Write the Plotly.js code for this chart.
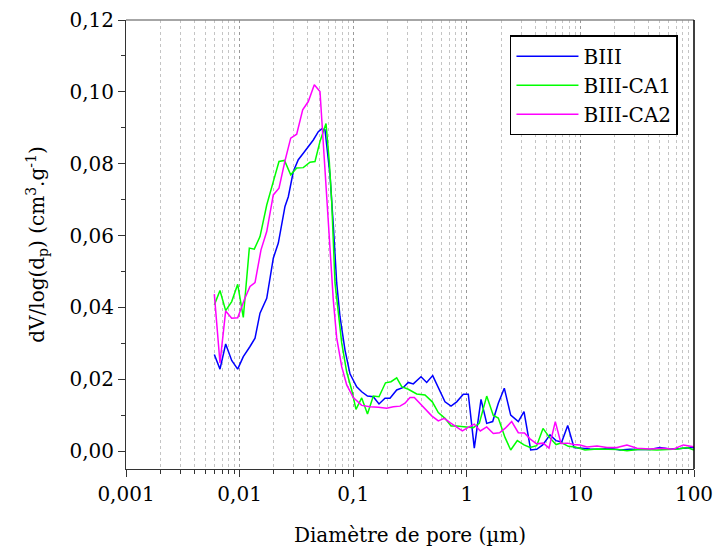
<!DOCTYPE html>
<html>
<head>
<meta charset="utf-8">
<script src="https://cdn.plot.ly/plotly-3.0.1.min.js"></script>
<style>html,body{margin:0;padding:0;background:#fff;}#chart{width:715px;height:551px;}</style>
</head>
<body>
<div id="chart"></div>
<script>
// ---- Data (pore diameter in µm, dV/log(dp) in cm3/g) ----
const biiiD = [0.00599,0.00672,0.00754,0.00852,0.00962,0.01078,0.01235,0.01367,0.01512,0.01733,0.0198,0.02192,0.02509,0.02684,0.0297,0.03286,0.03636,0.04024,0.04455,0.04929,0.05281,0.05646,0.06248,0.0668,0.07158,0.07652,0.08469,0.09371,0.1073,0.1188,0.1336,0.1503,0.1687,0.1905,0.2108,0.2415,0.2761,0.3055,0.3381,0.3952,0.4436,0.501,0.5612,0.6428,0.7262,0.8149,0.9316,1.031,1.164,1.334,1.497,1.69,1.894,2.138,2.434,2.84,3.188,3.651,4.124,4.658,5.4,6.099,6.845,7.732,8.785,9.92,12.15,14.88,18.22,22.32,27.33,33.46,41.0,50.2,61.5,75.3,92.2,100];
const biiiV = [0.0269,0.0228,0.0298,0.0252,0.0228,0.0263,0.0291,0.0314,0.0384,0.0425,0.0537,0.0579,0.0681,0.0708,0.0778,0.0811,0.0829,0.0848,0.0866,0.0889,0.0897,0.0894,0.0769,0.0630,0.0468,0.0374,0.0281,0.0215,0.0179,0.0165,0.0153,0.0151,0.0131,0.0147,0.0147,0.0170,0.0177,0.0191,0.0187,0.0207,0.0191,0.0210,0.0175,0.0137,0.0125,0.0137,0.0158,0.0158,0.0008,0.0144,0.0077,0.0082,0.0133,0.0175,0.0100,0.0082,0.0110,0.0003,0.0005,0.0017,0.0045,0.0029,0.0025,0.0071,0.0010,0.0008,0.0006,0.0005,0.0008,0.0003,0.0005,0.0004,0.0004,0.0010,0.0006,0.0007,0.0010,0.0010];

const ca1D = [0.00599,0.00672,0.00754,0.00852,0.00962,0.01078,0.01218,0.01347,0.01512,0.01733,0.0198,0.02222,0.02484,0.02818,0.03181,0.03636,0.04165,0.04611,0.05101,0.05534,0.05763,0.0616,0.06467,0.06915,0.07393,0.07922,0.08767,0.09701,0.1058,0.1188,0.1336,0.1503,0.1687,0.1924,0.2151,0.2415,0.2673,0.3055,0.3622,0.4285,0.4969,0.5612,0.6428,0.7262,0.8149,0.9643,1.141,1.288,1.497,1.711,1.894,2.169,2.434,2.783,3.188,3.6,4.124,4.687,5.346,6.099,6.845,7.826,8.964,10.98,14.0,17.5,21.4,25.7,33.5,47.2,57.8,72.3,86.8,100];
const ca1V = [0.0407,0.0447,0.0391,0.0416,0.0464,0.0372,0.0565,0.0562,0.0597,0.0685,0.0750,0.0806,0.0809,0.0769,0.0788,0.0789,0.0804,0.0806,0.0862,0.0899,0.0912,0.0806,0.0694,0.0468,0.0384,0.0301,0.0220,0.0170,0.0116,0.0148,0.0103,0.0153,0.0151,0.0190,0.0193,0.0204,0.0179,0.0172,0.0159,0.0156,0.0137,0.0107,0.0091,0.0070,0.0070,0.0068,0.0065,0.0077,0.0153,0.0099,0.0092,0.0038,0.0003,0.0029,0.0017,0.0010,0.0015,0.0063,0.0038,0.0018,0.0023,0.0013,0.0011,0.0003,0.0006,0.0005,0.0004,0.0001,0.0005,0.0003,0.0004,0.0006,0.0010,0.0003];

const ca2D = [0.00599,0.00672,0.00754,0.00852,0.00962,0.011,0.01235,0.01367,0.01543,0.01733,0.0198,0.02222,0.02509,0.02818,0.03181,0.03592,0.04024,0.04546,0.05101,0.05456,0.05843,0.06248,0.0668,0.07158,0.07922,0.08767,0.1002,0.1188,0.1405,0.1663,0.1972,0.2254,0.2582,0.2858,0.3162,0.3451,0.3873,0.4285,0.4909,0.5612,0.6337,0.7116,0.7873,0.9129,1.031,1.164,1.315,1.497,1.711,1.941,2.169,2.484,2.84,3.22,3.6,4.124,4.715,5.292,6.012,6.748,7.7,8.785,9.92,11.43,14.0,17.15,21.0,25.7,31.5,41.0,53.4,65.7,80.5,99.4];
const ca2V = [0.0437,0.0245,0.0390,0.0370,0.0371,0.0421,0.0458,0.0469,0.0560,0.0611,0.0713,0.0732,0.0808,0.0871,0.0882,0.0950,0.0973,0.1020,0.1001,0.0862,0.0727,0.0560,0.0421,0.0315,0.0235,0.0184,0.0149,0.0127,0.0123,0.0122,0.0119,0.0123,0.0125,0.0133,0.0149,0.0149,0.0133,0.0116,0.0098,0.0084,0.0091,0.0079,0.0070,0.0056,0.0066,0.0075,0.0056,0.0067,0.0049,0.0051,0.0063,0.0082,0.0051,0.0050,0.0034,0.0020,0.0022,0.0008,0.0082,0.0021,0.0022,0.0018,0.0017,0.0011,0.0014,0.0010,0.0010,0.0017,0.0008,0.0006,0.0008,0.0005,0.0017,0.0012];

const seriesNames = ["BIII", "BIII-CA1", "BIII-CA2"];
const xTickVals = [0.001, 0.01, 0.1, 1, 10, 100];
const xTickText = ["0,001", "0,01", "0,1", "1", "10", "100"];

// minor tick positions 2..9 within each decade
const xMinorVals = [];
for (let i = 0; i < xTickVals.length - 1; i++) {
  for (let m = 2; m <= 9; m++) xMinorVals.push(+(xTickVals[i] * m).toPrecision(3));
}

const FONT = "DejaVu Serif, serif";
const colors = ["#0000ff", "#00ff00", "#ff00ff"];
const xs = [biiiD, ca1D, ca2D];
const ys = [biiiV, ca1V, ca2V];

const traces = seriesNames.map((n, i) => ({
  x: xs[i], y: ys[i], name: n, type: "scatter", mode: "lines",
  line: {color: colors[i], width: 1.5},
  legendgroup: "g" + i
}));

const layout = {
  width: 715, height: 551,
  margin: {l: 126, r: 21, t: 20, b: 82},
  paper_bgcolor: "#fff", plot_bgcolor: "#fff",
  separators: ", ",
  font: {family: FONT, size: 20, color: "#000"},
  showlegend: true,
  legend: {
    x: 0.676, y: 0.966, xanchor: "left", yanchor: "top",
    bgcolor: "#fff", bordercolor: "#000", borderwidth: 1.5,
    font: {family: FONT, size: 20, color: "#000"},
    tracegroupgap: 0, itemwidth: 62
  },
  xaxis: {
    type: "log", range: [-3, 2],
    tickmode: "array", tickvals: xTickVals, ticktext: xTickText,
    ticks: "outside", ticklen: 7, tickwidth: 1, tickcolor: "#333",
    showline: true, linecolor: "#333", linewidth: 1,
    showgrid: true, gridcolor: "#9a9a9a", gridwidth: 1.3, griddash: "dot",
    minor: {tickmode: "array", tickvals: xMinorVals, ticks: "outside", ticklen: 4, tickcolor: "#333",
            showgrid: true, gridcolor: "#c4c4c4", gridwidth: 1, griddash: "dot"},
    zeroline: false,
    tickfont: {family: FONT, size: 20, color: "#000"},
    title: {text: "Diamètre de pore (µm)", font: {family: FONT, size: 20, color: "#000"}, standoff: 22}
  },
  yaxis: {
    range: [-0.005, 0.12], tick0: 0, dtick: 0.02, tickformat: ".2f",
    ticks: "outside", ticklen: 7, tickwidth: 1, tickcolor: "#333",
    showline: true, linecolor: "#333", linewidth: 1,
    showgrid: false, zeroline: false,
    minor: {dtick: 0.01, ticks: "outside", ticklen: 4, tickcolor: "#333", showgrid: false},
    tickfont: {family: FONT, size: 20, color: "#000"},
    title: {text: "dV/log(d<sub>p</sub>) (cm<sup>3</sup>.g<sup>-1</sup>)", font: {family: FONT, size: 20, color: "#000"}, standoff: 19}
  },
  shapes: [
    {type: "line", xref: "paper", yref: "paper", x0: 0, x1: 1, y0: 1, y1: 1, line: {color: "#888", width: 1.5}},
    {type: "line", xref: "paper", yref: "paper", x0: 1, x1: 1, y0: 0, y1: 1, line: {color: "#000", width: 1.5}}
  ]
};

Plotly.newPlot("chart", traces, layout, {displayModeBar: false, staticPlot: true});
</script>
</body>
</html>
